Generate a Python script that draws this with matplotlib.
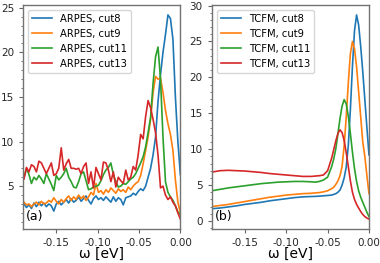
import numpy as np
import matplotlib
matplotlib.use('Agg')
import matplotlib.pyplot as plt
from matplotlib.ticker import MultipleLocator

# ARPES energy grid (eV)
w_arpes = np.linspace(-0.189, 0.0, 64)

arpes_cut8 = [3.0, 2.6, 2.9, 2.5, 3.1, 2.7, 3.2, 2.8, 3.1, 2.7, 3.0, 2.8, 2.2, 3.0, 3.3, 2.9,
              3.2, 3.5, 3.1, 3.6, 3.2, 3.4, 3.8, 3.3, 3.6, 3.9, 3.4, 3.0, 3.6, 3.9, 3.5, 3.7,
              3.4, 3.8, 3.5, 3.2, 3.8, 3.3, 3.7, 3.5, 2.9, 3.7, 3.8, 3.9, 4.2, 4.0, 4.4, 4.7,
              4.5, 5.0, 6.0, 7.0, 8.5, 10.5, 14.5, 17.5, 20.0, 22.0, 24.2, 23.8, 21.5, 15.0,
              10.0, 6.3]
arpes_cut9 = [3.2, 2.9, 3.0, 2.7, 3.0, 3.2, 2.9, 3.3, 3.0, 3.1, 3.4, 3.2, 3.7, 3.3, 3.0, 3.5,
              3.2, 3.6, 3.9, 3.4, 3.8, 3.5, 4.0, 3.6, 3.9, 3.4, 3.8, 4.3, 4.0, 5.3, 4.3, 4.5,
              4.1, 4.6, 4.3, 4.8, 4.5, 4.2, 4.7, 4.4, 4.6, 4.3, 4.9, 4.6, 5.0, 5.3, 5.5, 6.2,
              7.5, 9.0, 10.5, 12.5, 15.5, 17.3, 17.0, 17.1, 15.5, 13.5, 12.0, 10.8, 9.0, 5.7,
              3.2, 2.0]
arpes_cut11 = [6.0, 7.0, 6.3, 5.3, 6.0, 5.7, 6.2, 5.8, 5.3, 6.4, 5.8, 5.2, 4.5, 6.2, 5.7, 6.0,
               6.4, 7.0, 6.0, 5.5, 4.9, 4.8, 5.5, 6.4, 6.6, 5.6, 4.6, 4.7, 4.9, 5.0, 5.1, 5.6,
               6.3, 6.8, 7.1, 7.6, 6.3, 5.5, 4.9, 5.0, 5.3, 5.2, 5.5, 5.8, 6.0, 6.4, 7.0, 7.6,
               8.3, 9.4, 11.0, 12.7, 16.5, 19.5, 20.6, 17.0, 10.5, 5.5, 4.3, 3.8, 3.4, 2.8,
               2.1, 1.8]
arpes_cut13 = [5.8, 7.1, 6.6, 7.4, 7.2, 6.6, 7.8, 7.6, 7.0, 6.4, 7.0, 7.6, 6.2, 6.4, 7.0, 9.3,
               6.8, 7.5, 8.0, 7.0, 7.0, 6.9, 7.0, 6.4, 7.2, 7.6, 5.3, 6.6, 4.8, 7.1, 6.4, 5.7,
               7.7, 7.6, 6.8, 5.5, 6.6, 4.9, 6.0, 5.6, 5.3, 6.8, 5.7, 6.0, 7.2, 6.8, 8.5, 10.8,
               10.3, 12.8, 14.6, 13.8, 12.5, 11.0, 8.5, 4.8, 5.0, 4.0, 3.5, 3.8, 3.2, 2.8,
               2.0, 1.3]

# TCFM energy grid (eV)
w_tcfm = [-0.19, -0.18, -0.17, -0.16, -0.15, -0.14, -0.13, -0.12, -0.11, -0.10, -0.09, -0.08,
          -0.07, -0.065, -0.06, -0.055, -0.05, -0.045, -0.0425, -0.04, -0.0375, -0.035,
          -0.0325, -0.03, -0.0275, -0.025, -0.0225, -0.02, -0.0175, -0.015, -0.0125, -0.01,
          -0.0075, -0.005, -0.0025, 0.0]

tcfm_cut8 = [1.7, 1.8, 1.95, 2.1, 2.3, 2.45, 2.6, 2.8, 2.95, 3.1, 3.25, 3.35,
             3.4, 3.42, 3.45, 3.5, 3.55, 3.6, 3.7, 3.8, 4.0, 4.3,
             5.0, 6.0, 7.5, 10.5, 15.5, 21.5, 26.5, 28.7, 27.3, 24.3,
             20.8, 16.9, 13.0, 9.2]
tcfm_cut9 = [2.0, 2.15, 2.3, 2.5, 2.7, 2.9, 3.1, 3.3, 3.45, 3.6, 3.7, 3.8,
             3.85, 3.9, 3.95, 4.05, 4.2, 4.5, 4.7, 5.1, 5.6, 6.3,
             7.6, 10.5, 14.5, 19.2, 23.3, 25.0, 24.0, 21.5, 18.0, 14.5,
             11.0, 9.0, 6.3, 3.8]
tcfm_cut11 = [4.2, 4.4, 4.6, 4.75, 4.9, 5.05, 5.2, 5.3, 5.4, 5.45, 5.5, 5.5,
              5.45, 5.4, 5.5, 5.7, 6.1, 7.6, 8.7, 10.1, 12.2, 14.3,
              16.0, 16.9, 16.3, 14.6, 12.2, 9.6, 7.3, 5.5, 4.2, 3.3,
              2.6, 1.9, 1.2, 0.6]
tcfm_cut13 = [6.8, 7.0, 7.05, 7.0, 6.95, 6.85, 6.75, 6.6, 6.5, 6.4, 6.3, 6.2,
              6.2, 6.25, 6.3, 6.4, 7.0, 8.8, 10.0, 11.2, 12.2, 12.7,
              12.3, 11.2, 9.5, 7.6, 5.6, 4.0, 3.0, 2.3, 1.8, 1.3,
              0.9, 0.6, 0.4, 0.25]

fig, (ax1, ax2) = plt.subplots(1, 2, figsize=(3.8, 2.63), dpi=100)
fig.subplots_adjust(left=0.061, right=0.971, bottom=0.128, top=0.982, wspace=0.2)

ax1.plot(w_arpes, arpes_cut8, lw=1.2, label='ARPES, cut8')
ax1.plot(w_arpes, arpes_cut9, lw=1.2, label='ARPES, cut9')
ax1.plot(w_arpes, arpes_cut11, lw=1.2, label='ARPES, cut11')
ax1.plot(w_arpes, arpes_cut13, lw=1.2, label='ARPES, cut13')

ax2.plot(w_tcfm, tcfm_cut8, lw=1.2, label='TCFM, cut8')
ax2.plot(w_tcfm, tcfm_cut9, lw=1.2, label='TCFM, cut9')
ax2.plot(w_tcfm, tcfm_cut11, lw=1.2, label='TCFM, cut11')
ax2.plot(w_tcfm, tcfm_cut13, lw=1.2, label='TCFM, cut13')

for ax, lab in [(ax1, '(a)'), (ax2, '(b)')]:
    ax.set_xlim(-0.19, 0.0)
    ax.set_xticks([-0.15, -0.10, -0.05, 0.00])
    ax.xaxis.set_major_formatter(matplotlib.ticker.FormatStrFormatter('%.2f'))
    ax.yaxis.set_major_locator(MultipleLocator(5))
    ax.yaxis.set_minor_locator(MultipleLocator(1))
    ax.tick_params(labelsize=7.5, colors='0.15', length=3)
    ax.tick_params(which='both', color='0.4')
    ax.tick_params(which='minor', length=1.8)
    for s in ax.spines.values():
        s.set_color('0.45')
        s.set_linewidth(1.0)
    ax.set_xlabel('ω [eV]', fontsize=10, labelpad=-1)
    ax.legend(loc='upper left', fontsize=7.2, handlelength=2.0)
    ax.text(0.02, 0.03, lab, transform=ax.transAxes, fontsize=9, ha='left', va='bottom')

plt.savefig('out.png', dpi=100)
